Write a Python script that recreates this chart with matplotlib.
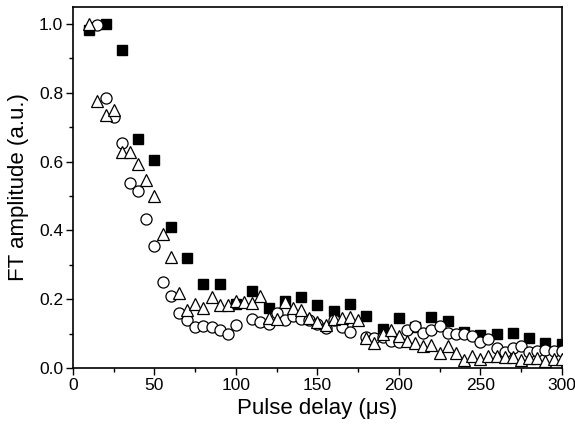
import matplotlib
matplotlib.use("Agg")
import matplotlib.pyplot as plt
from matplotlib.ticker import MultipleLocator

plt.rcParams['font.family'] = ['Liberation Sans', 'DejaVu Sans']

# squares (filled), every 10 us
sq_x = list(range(10, 301, 10))
sq_y = [0.982, 1.0, 0.925, 0.667, 0.605, 0.409, 0.32, 0.244, 0.243, 0.185,
        0.224, 0.175, 0.194, 0.206, 0.183, 0.166, 0.187, 0.151, 0.113, 0.146,
        0.12, 0.148, 0.138, 0.106, 0.095, 0.1, 0.102, 0.086, 0.074, 0.071]

# open circles
ci_x = [15, 20, 25, 30, 35, 40, 45, 50, 55, 60, 65, 70, 75, 80, 85, 90, 95, 100,
        110, 115, 120, 125, 130, 135, 140, 145, 150, 155, 160, 165, 170,
        180, 185, 190, 195, 200, 205, 210, 215, 220, 225, 230, 235, 240, 245,
        250, 255, 260, 265, 270, 275, 280, 285, 290, 295, 300]
ci_y = [0.997, 0.785, 0.73, 0.653, 0.537, 0.515, 0.432, 0.356, 0.249, 0.21,
        0.161, 0.141, 0.12, 0.121, 0.12, 0.112, 0.099, 0.126,
        0.143, 0.134, 0.129, 0.161, 0.141, 0.152, 0.142, 0.14, 0.129, 0.117,
        0.139, 0.119, 0.104,
        0.09, 0.087, 0.09, 0.08, 0.077, 0.112, 0.123, 0.102, 0.11, 0.121,
        0.103, 0.1, 0.099, 0.092, 0.077, 0.084, 0.057, 0.047, 0.058, 0.064,
        0.046, 0.05, 0.053, 0.05, 0.051]

# open triangles, every 5 us
tr_x = list(range(10, 301, 5))
tr_y = [1.0, 0.775, 0.735, 0.75, 0.627, 0.627, 0.593, 0.546, 0.5, 0.39,
        0.324, 0.219, 0.169, 0.186, 0.176, 0.207, 0.183, 0.183, 0.195, 0.193,
        0.19, 0.21, 0.147, 0.144, 0.193, 0.175, 0.169, 0.147, 0.134, 0.124,
        0.143, 0.145, 0.148, 0.141, 0.088, 0.072, 0.098, 0.111, 0.092, 0.078,
        0.072, 0.065, 0.067, 0.044, 0.063, 0.045, 0.023, 0.035, 0.027, 0.036,
        0.034, 0.033, 0.033, 0.024, 0.03, 0.029, 0.021, 0.025, 0.027]

fig = plt.figure(figsize=(5.75, 4.29), dpi=100)
ax = fig.add_axes([0.127, 0.142, 0.85, 0.842])

ax.plot(sq_x, sq_y, 's', color='black', markersize=6.5, linestyle='none', zorder=3)
ax.plot(ci_x, ci_y, 'o', markerfacecolor='white', markeredgecolor='black',
        markeredgewidth=0.9, markersize=8, linestyle='none', zorder=4)
ax.plot(tr_x, tr_y, '^', markerfacecolor='white', markeredgecolor='black',
        markeredgewidth=0.9, markersize=8.5, linestyle='none', zorder=5)

ax.set_xlim(0, 300)
ax.set_ylim(0, 1.05)
ax.xaxis.set_major_locator(MultipleLocator(50))
ax.xaxis.set_minor_locator(MultipleLocator(25))
ax.yaxis.set_major_locator(MultipleLocator(0.2))
ax.yaxis.set_minor_locator(MultipleLocator(0.1))
ax.yaxis.set_major_formatter(plt.FormatStrFormatter('%.1f'))
ax.tick_params(which='both', direction='out', top=False, right=False,
               labelsize=12.5, width=1, pad=2)
ax.tick_params(which='major', length=5)
ax.tick_params(which='minor', length=3)
for s in ax.spines.values():
    s.set_linewidth(1.2)

ax.set_xlabel('Pulse delay (μs)', fontsize=16, labelpad=4)
ax.set_ylabel('FT amplitude (a.u.)', fontsize=16, labelpad=7)

fig.savefig('out.png', dpi=100)
